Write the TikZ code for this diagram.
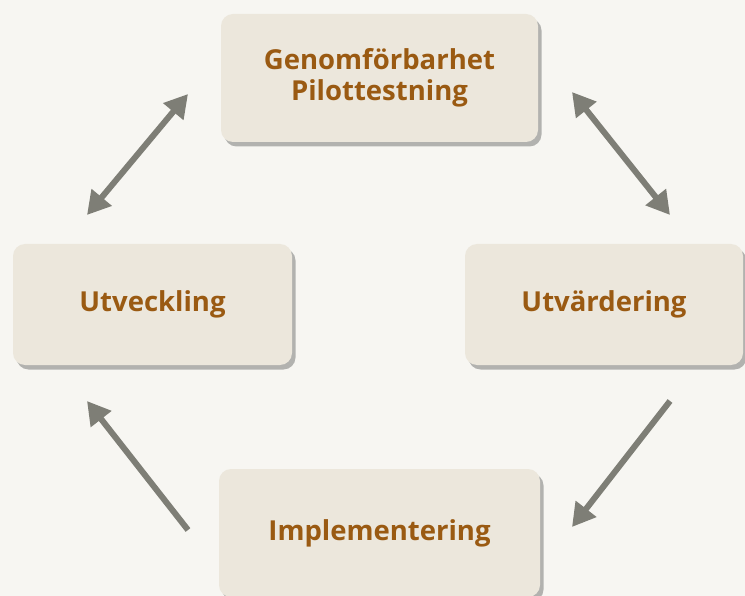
\documentclass[tikz,border=0pt]{standalone}
\usepackage{fontspec}
\setmainfont{Open Sans}
\usetikzlibrary{arrows.meta,shadows}
\definecolor{bg}{HTML}{F7F6F2}
\definecolor{boxfill}{HTML}{ECE7DC}
\definecolor{txt}{HTML}{9A5A12}
\definecolor{arr}{HTML}{7E7E76}
\tikzset{
  stagebox/.style={rounded corners=12pt, fill=boxfill, align=center,
    font=\fontsize{27.5}{32}\selectfont\bfseries, text=txt,
    drop shadow={shadow xshift=3.5pt, shadow yshift=-4.5pt, opacity=0.4, fill=black!70}},
  conn/.style={draw=arr, line width=6pt, -{Triangle[length=23pt,width=25pt]}},
  dconn/.style={draw=arr, line width=6pt, {Triangle[length=23pt,width=25pt]}-{Triangle[length=23pt,width=25pt]}}
}
\begin{document}
\begin{tikzpicture}[x=1pt,y=-1pt]
\useasboundingbox (0,0) rectangle (745,596);
\fill[bg] (0,0) rectangle (745,596);
\node[stagebox, minimum width=317pt, minimum height=128pt] (top) at (379.5,78) {\raisebox{-1pt}{Genomförbarhet}\\Pilottestning};
\node[stagebox, minimum width=279pt, minimum height=121pt] (left) at (152.5,304.5) {\raisebox{-3pt}{Utveckling}};
\node[stagebox, minimum width=278pt, minimum height=121pt] (right) at (604,304.5) {\raisebox{-4pt}{Utvärdering}};
\node[stagebox, minimum width=321pt, minimum height=128pt] (bottom) at (379.5,533) {\raisebox{-3pt}{Implementering}};
\coordinate (a1) at (87,215);
\coordinate (a2) at (188,94);
\coordinate (b1) at (572,92);
\coordinate (b2) at (670,215);
\coordinate (c1) at (670,401);
\coordinate (c2) at (572,527);
\coordinate (d1) at (188,530);
\coordinate (d2) at (87,401);
\draw[dconn] (a1) -- (a2);
\draw[dconn] (b1) -- (b2);
\draw[conn] (c1) -- (c2);
\draw[conn] (d1) -- (d2);
\end{tikzpicture}
\end{document}
